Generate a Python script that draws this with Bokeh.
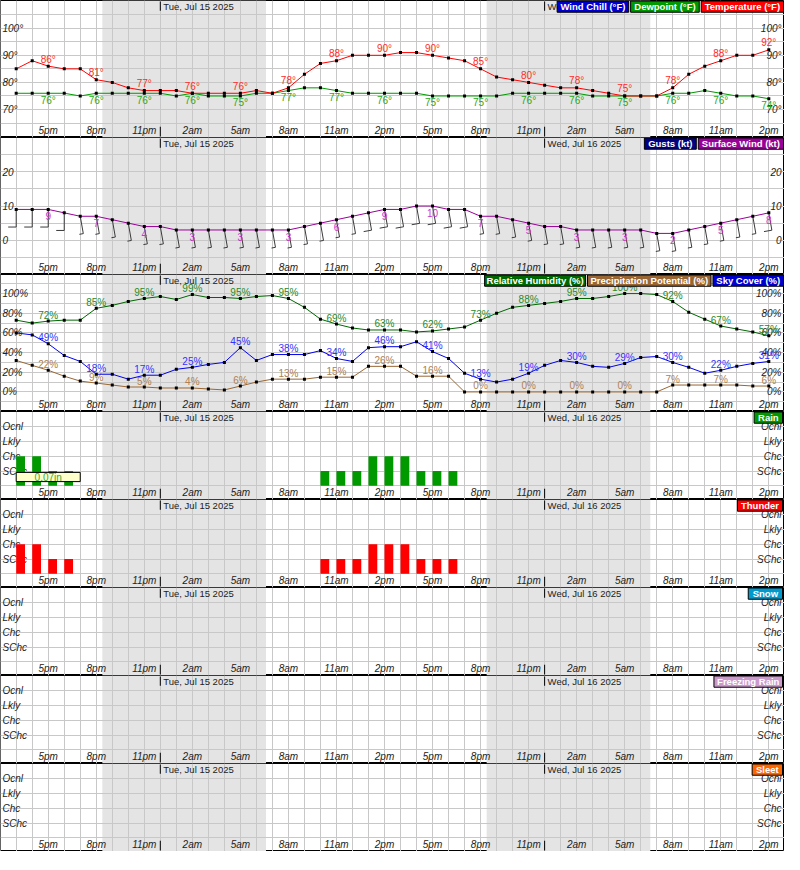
import math
from bokeh.plotting import figure
from bokeh.models import Range1d, Grid, FixedTicker
from bokeh.layouts import column
from bokeh.core.properties import value
from bokeh.embed import file_html
from bokeh.resources import INLINE

# ---------------- data ----------------
hours = list(range(48))  # hourly index, 0 = 3pm Mon Jul 14 ... 47 = 2pm Wed Jul 16
tick_hours = [2, 5, 8, 11, 14, 17, 20, 23, 26, 29, 32, 35, 38, 41, 44, 47]
tick_labels = ["5pm", "8pm", "11pm", "2am", "5am", "8am", "11am", "2pm",
               "5pm", "8pm", "11pm", "2am", "5am", "8am", "11am", "2pm"]
date_hours = [9, 33]
date_labels = ["Tue, Jul 15 2025", "Wed, Jul 16 2025"]
night_start = [5.38, 29.38]
night_end = [15.6, 39.6]

temperature = [85, 88, 86, 85, 85, 81, 80, 78, 77, 77, 77, 76, 76, 76, 76, 77, 76, 78, 83, 87, 88, 90, 90, 90,
               91, 91, 90, 89, 88, 85, 82, 81, 80, 79, 78, 78, 77, 76, 75, 75, 75, 78, 83, 86, 88, 90, 90, 92]
dewpoint = [76, 76, 76, 76, 75, 76, 76, 76, 76, 76, 75, 76, 75, 75, 75, 76, 76, 77, 78, 78, 77, 76, 76, 76,
            76, 76, 75, 75, 75, 75, 75, 76, 76, 76, 76, 76, 75, 75, 75, 75, 75, 76, 76, 77, 76, 75, 75, 74]
wind_speed = [9, 9, 9, 8, 7, 7, 6, 5, 4, 4, 3, 3, 3, 3, 3, 3, 3, 3, 4, 5, 6, 7, 8, 9,
              9, 10, 10, 9, 9, 7, 7, 6, 5, 4, 4, 3, 3, 3, 3, 3, 2, 2, 3, 4, 5, 6, 7, 8]
wind_dir = [180, 180, 180, 180, 170, 170, 170, 170, 170, 170, 170, 170, 170, 170, 170, 170, 170, 170, 170, 170,
            170, 170, 170, 170, 170, 170, 170, 170, 170, 170, 170, 170, 170, 170, 170, 170, 170, 170, 170, 170,
            170, 170, 170, 170, 170, 170, 170, 170]
humidity = [73, 70, 72, 73, 73, 85, 88, 92, 95, 97, 94, 99, 96, 96, 95, 97, 98, 95, 86, 74, 69, 65, 63, 63,
            63, 61, 62, 64, 66, 73, 80, 86, 88, 90, 92, 95, 95, 97, 100, 100, 99, 92, 81, 74, 67, 64, 61, 57]
sky_cover = [60, 58, 49, 37, 31, 18, 18, 13, 17, 17, 23, 25, 28, 30, 45, 32, 38, 38, 38, 42, 34, 31, 45, 46,
             46, 51, 41, 34, 19, 13, 10, 13, 19, 27, 32, 30, 26, 25, 29, 35, 36, 30, 25, 19, 22, 26, 29, 31]
precip_pot = [32, 27, 22, 16, 11, 9, 7, 5, 5, 4, 4, 4, 3, 2, 6, 10, 13, 13, 13, 15, 15, 15, 26, 26,
              26, 16, 16, 16, 0, 0, 0, 0, 0, 0, 0, 0, 0, 0, 0, 0, 0, 7, 7, 7, 7, 7, 6, 6]
# categorical chance: 0 none, 1 SChc, 2 Chc, 3 Lkly, 4 Ocnl
rain = [2, 2, 1, 1, 0, 0, 0, 0, 0, 0, 0, 0, 0, 0, 0, 0, 0, 0, 0, 1, 1, 1, 2, 2,
        2, 1, 1, 1, 0, 0, 0, 0, 0, 0, 0, 0, 0, 0, 0, 0, 0, 0, 0, 0, 0, 0, 0, 0]
thunder = [2, 2, 1, 1, 0, 0, 0, 0, 0, 0, 0, 0, 0, 0, 0, 0, 0, 0, 0, 1, 1, 1, 2, 2,
           2, 1, 1, 1, 0, 0, 0, 0, 0, 0, 0, 0, 0, 0, 0, 0, 0, 0, 0, 0, 0, 0, 0, 0]
snow = [0] * 48
freezing_rain = [0] * 48
sleet = [0] * 48
cat_levels = [1, 2, 3, 4]
cat_labels = ["SChc", "Chc", "Lkly", "Ocnl"]
qpf_start = [0]
qpf_end = [4]
qpf_text = ["0.07in"]

# ---------------- layout constants ----------------
W = 784
SX = W / 800.0
X0, X1 = -0.98, 47.98
PPX = W / (X1 - X0)
XR = Range1d(X0, X1)
FONT = value("Liberation Sans")
GRID = "#c8c8c8"
NIGHT = "#e4e4e4"
TXT = "#222222"


def make_panel(ref_h, h, bottom, top, yticks):
    p = figure(width=W, height=h, x_range=XR, y_range=Range1d(bottom, top),
               output_backend="svg", toolbar_location=None,
               x_axis_type=None, y_axis_type=None, min_border=0,
               outline_line_color="black", outline_line_width=1)
    p.background_fill_color = "white"
    p.border_fill_color = "white"

    def Y(ref_px):
        return top - ref_px * (top - bottom) / ref_h

    p.quad(left=night_start, right=night_end, bottom=[bottom] * 2, top=[top] * 2,
           fill_color=NIGHT, line_color=None, level="image")
    p.add_layout(Grid(dimension=0, ticker=FixedTicker(ticks=list(range(-1, 49))),
                      grid_line_color=GRID, grid_line_width=1))
    p.add_layout(Grid(dimension=1, ticker=FixedTicker(ticks=yticks),
                      grid_line_color=GRID, grid_line_width=1))
    # midnight markers
    p.segment(x0=date_hours, x1=date_hours, y0=[Y(1)] * 2, y1=[Y(10.5)] * 2,
              line_color="black", line_width=1)
    p.segment(x0=date_hours, x1=date_hours, y0=[Y(ref_h - 11)] * 2, y1=[Y(ref_h - 1)] * 2,
              line_color="black", line_width=1)
    p.text(x=date_hours, y=[Y(6.5)] * 2, text=date_labels, x_offset=3,
           text_align="left", text_baseline="middle", text_font=FONT,
           text_font_size="9.5px", text_color=TXT)
    p.text(x=tick_hours, y=[Y(ref_h - 7.5)] * len(tick_hours), text=tick_labels,
           text_align="center", text_baseline="middle", text_font=FONT,
           text_font_style="italic", text_font_size="10px", text_color=TXT)
    return p, Y


def y_labels(p, vals, texts):
    n = len(vals)
    p.text(x=[X0 + 2 / PPX] * n, y=vals, text=texts, text_align="left", text_baseline="middle",
           text_font=FONT, text_font_style="italic", text_font_size="10px", text_color=TXT)
    p.text(x=[X1 - 3 / PPX] * n, y=vals, text=texts, text_align="right", text_baseline="middle",
           text_font=FONT, text_font_style="italic", text_font_size="10px", text_color=TXT)


def legend(p, Y, items):
    for text, color, l, r in items:
        left = X0 + l * SX / PPX
        right = X0 + r * SX / PPX
        p.quad(left=[left], right=[right], top=[Y(0.5)], bottom=[Y(12)],
               fill_color=color, line_color="black", line_width=1)
        p.text(x=[(left + right) / 2], y=[Y(6.5)], text=[text], text_align="center",
               text_baseline="middle", text_font=FONT, text_font_style="bold",
               text_font_size="9.5px", text_color="white")


def series(p, ys, color, label_color, label_suffix, y_off, lw=1):
    p.line(hours, ys, line_color=color, line_width=lw)
    p.scatter(hours, ys, marker="square", size=3, fill_color="black", line_color=None)
    p.text(x=tick_hours, y=[ys[i] for i in tick_hours],
           text=[f"{ys[i]}{label_suffix}" for i in tick_hours], y_offset=y_off,
           text_align="center", text_baseline="middle", text_font=FONT,
           text_font_size="10px", text_color=label_color)


figs = []

# ---- Panel 1: temperature / dewpoint ----
H1 = 137
p1, Y1 = make_panel(140, H1, 59.7, 110.2, [65, 70, 75, 80, 85, 90, 95, 100, 105])
y_labels(p1, [100, 90, 80, 70], ["100°", "90°", "80°", "70°"])
series(p1, dewpoint, "#009900", "#22aa22", "°", 7)
series(p1, temperature, "#ff0000", "#ff2a2a", "°", -7)
legend(p1, Y1, [("Wind Chill (°F)", "#0000cc", 568, 641),
                ("Dewpoint (°F)", "#009900", 643, 713),
                ("Temperature (°F)", "#ff0000", 715, 799)])
figs.append(p1)

# ---- Panel 2: wind ----
H2 = 137
bot2, top2 = -10.0, 30.0
p2, Y2 = make_panel(140, H2, bot2, top2, [-5, 0, 5, 10, 15, 20, 25])
y_labels(p2, [20, 10, 0], ["20", "10", "0"])
PPY2 = H2 / (top2 - bot2)
sx0, sy0, sx1, sy1, bx1, by1 = [], [], [], [], [], []
for i in hours:
    d = math.radians(wind_dir[i])
    ux, uy = math.sin(d), -math.cos(d)  # screen direction, y down
    L = 18 * H2 / 140.0
    blen = 8 if wind_speed[i] >= 7.5 else 4
    ex = hours[i] + ux * L / PPX
    ey = wind_speed[i] - uy * L / PPY2
    sx0.append(hours[i]); sy0.append(wind_speed[i]); sx1.append(ex); sy1.append(ey)
    bx1.append(ex + (-uy * blen) / PPX)
    by1.append(ey - (ux * blen) / PPY2)
p2.segment(x0=sx0, y0=sy0, x1=sx1, y1=sy1, line_color="#3a3a3a", line_width=1)
p2.segment(x0=sx1, y0=sy1, x1=bx1, y1=by1, line_color="#3a3a3a", line_width=1)
series(p2, wind_speed, "#990099", "#cc33cc", "", 7)
legend(p2, Y2, [("Gusts (kt)", "#000080", 657, 710),
                ("Surface Wind (kt)", "#990099", 712, 799)])
figs.append(p2)

# ---- Panel 3: RH / precip potential / sky cover ----
H3 = 137
p3, Y3 = make_panel(140, H3, -19.9, 119.4, [-10, 0, 10, 20, 30, 40, 50, 60, 70, 80, 90, 100, 110])
y_labels(p3, [100, 80, 60, 40, 20, 0], ["100%", "80%", "60%", "40%", "20%", "0%"])
series(p3, precip_pot, "#996633", "#b08050", "%", -6)
series(p3, sky_cover, "#0000ee", "#3333ff", "%", -6)
series(p3, humidity, "#006600", "#2a882a", "%", -6)
legend(p3, Y3, [("Relative Humidity (%)", "#006600", 494, 597),
                ("Precipitation Potential (%)", "#996633", 599, 725),
                ("Sky Cover (%)", "#0000cc", 727, 799)])
figs.append(p3)

# ---- Precip type panels ----
ptypes = [("Rain", rain, "#009900", "#009900", 769),
          ("Thunder", thunder, "#ff0000", "#ff0000", 752),
          ("Snow", snow, "#0099cc", "#0099cc", 763),
          ("Freezing Rain", freezing_rain, "#cc99cc", "#cc99cc", 728),
          ("Sleet", sleet, "#ff6600", "#ff6600", 767)]
for name, vals, bar_color, box_color, lft in ptypes:
    H = 88
    p, Y = make_panel(90, H, -0.93, 5.03, [0, 1, 2, 3, 4])
    y_labels(p, cat_levels, cat_labels)
    bx = [h for h, v in zip(hours, vals) if v > 0]
    bv = [v for v in vals if v > 0]
    if bx:
        p.quad(left=bx, right=[b + 0.55 for b in bx], bottom=[0] * len(bx), top=bv,
               fill_color=bar_color, line_color=None)
    if name == "Rain":
        p.quad(left=qpf_start, right=qpf_end, top=[Y(62.3)], bottom=[Y(71.7)],
               fill_color="#ffffcc", line_color="black", line_width=1)
        p.text(x=[(qpf_start[0] + qpf_end[0]) / 2], y=[Y(67)], text=qpf_text,
               text_align="center", text_baseline="middle", text_font=FONT,
               text_font_size="10px", text_color="#33aa33")
    legend(p, Y, [(name, box_color, lft, 798)])
    figs.append(p)

layout = column(*figs, spacing=0)
open("out.html", "w").write(file_html(layout, INLINE, title="Hourly Weather Graph"))
